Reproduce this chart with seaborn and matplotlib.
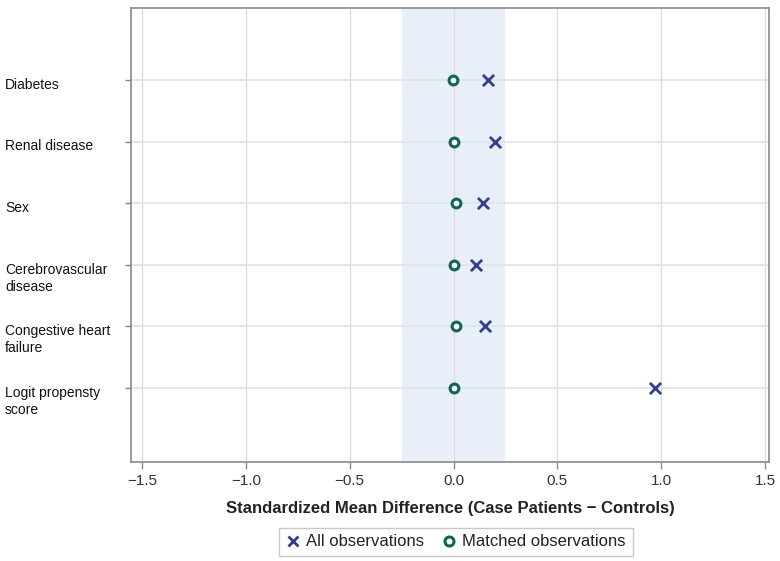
import matplotlib
matplotlib.use("Agg")
import matplotlib.pyplot as plt
import matplotlib.transforms as mtransforms
from matplotlib.lines import Line2D
import seaborn as sns
import pandas as pd

categories = ["Diabetes", "Renal disease", "Sex", "Cerebrovascular disease",
              "Congestive heart failure", "Logit propensty score"]
cat_labels = ["Diabetes", "Renal disease", "Sex", "Cerebrovascular\ndisease",
              "Congestive heart\nfailure", "Logit propensty\nscore"]
all_obs = [0.165, 0.20, 0.14, 0.108, 0.152, 0.97]
matched_obs = [-0.004, 0.002, 0.01, 0.002, 0.01, 0.002]
x_ticks = [-1.5, -1.0, -0.5, 0.0, 0.5, 1.0, 1.5]
band = [-0.25, 0.25]

sns.set_theme(style="white")
plt.rcParams["font.family"] = ["Liberation Sans", "DejaVu Sans"]

fig = plt.figure(figsize=(7.8, 5.61), dpi=100)
ax = fig.add_axes([131/780, 1-461.5/561, (769-131)/780, (461.5-8)/561])

df = pd.DataFrame({"cat": categories, "all": all_obs, "matched": matched_obs})
df["pos"] = range(len(categories))

ax.axvspan(band[0], band[1], color="#E8EFF8", zorder=0, lw=0)
for xt in x_ticks:
    ax.axvline(xt, color="#DCDCDC", lw=1, zorder=0.5)
for p in df["pos"]:
    ax.axhline(p, color="#E2E2E2", lw=1.2, zorder=0.5)

navy = "#333F8E"
teal = "#0E6656"
sns.scatterplot(data=df, x="all", y="pos", marker="x", s=65, color=navy,
                linewidth=2.0, ax=ax, zorder=3)
sns.scatterplot(data=df, x="matched", y="pos", marker="o", s=40,
                facecolor="white", edgecolor=teal, linewidth=2.2, ax=ax, zorder=3)

ax.set_xlim(-1.553, 1.519)
ax.set_ylim(len(categories) - 1 + 1.2, -1.17)
ax.set_xticks(x_ticks)
ax.set_xticklabels([f"{v:.1f}".replace("-", "\u2212") for v in x_ticks])
ax.set_yticks(df["pos"])
ax.set_yticklabels([])
ax.tick_params(axis="x", length=5, width=1, color="#888888", labelsize=11,
               labelcolor="#333333", pad=4, bottom=True)
ax.tick_params(axis="y", length=4, width=1, color="#888888", left=True)
for sp in ax.spines.values():
    sp.set_color("#8A8A8A")
    sp.set_linewidth(1.2)

ax.set_xlabel("Standardized Mean Difference (Case Patients \u2212 Controls)",
              fontsize=12, fontweight="bold", color="#222222", labelpad=9)
ax.set_ylabel("")

trans = mtransforms.blended_transform_factory(fig.transFigure, ax.transData)
trans = mtransforms.offset_copy(trans, fig=fig, x=0, y=1.5, units="points")
for p, lab in zip(df["pos"], cat_labels):
    ax.text(5/780, p, lab, transform=trans, ha="left", va="top",
            fontsize=10, color="#111111", linespacing=1.3)

handles = [
    Line2D([], [], marker="x", color=navy, ls="", markersize=7.5, mew=2),
    Line2D([], [], marker="o", color=teal, mfc="white", ls="", markersize=6.5, mew=2.2),
]
leg = fig.legend(handles, ["All observations", "Matched observations"],
                 loc="center", bbox_to_anchor=(456/780, 1-542/561), ncol=2,
                 frameon=True, fontsize=12, handlelength=0.8, handletextpad=0.4,
                 columnspacing=1.1, borderpad=0.4, fancybox=False)
leg.get_frame().set_edgecolor("#BBBBBB")
leg.get_frame().set_linewidth(1)
for t in leg.get_texts():
    t.set_color("#222222")

fig.savefig("out.png", dpi=100)
